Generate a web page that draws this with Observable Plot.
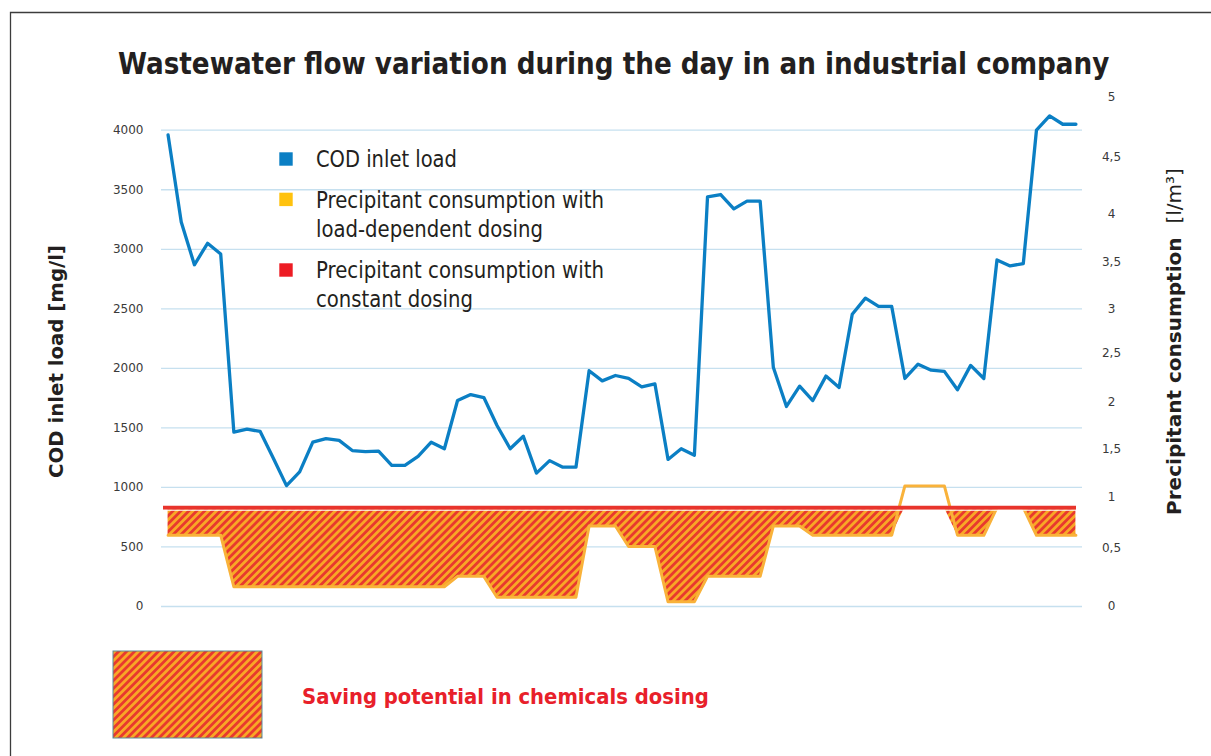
<!DOCTYPE html>
<html>
<head>
<meta charset="utf-8">
<script src="https://cdn.jsdelivr.net/npm/d3@7"></script>
<script src="https://cdn.jsdelivr.net/npm/@observablehq/plot@0.6"></script>
<style>
html,body{margin:0;padding:0;background:#fff;}
#page{position:relative;width:1211px;height:756px;overflow:hidden;background:#fff;}
#chart{position:absolute;left:0;top:80px;}
#overlay{position:absolute;left:0;top:0;pointer-events:none;}
</style>
</head>
<body>
<div id="page">
  <div id="chart"></div>
  <svg id="overlay" width="1211" height="756" xmlns="http://www.w3.org/2000/svg"></svg>
</div>
<script>
// ---------- texts ----------
const title = "Wastewater flow variation during the day in an industrial company";
const yLabelLeft = "COD inlet load [mg/l]";
const yLabelRight = ["Precipitant consumption", "[l/m³]"];
const savingLabel = "Saving potential in chemicals dosing";
const seriesNames = [
  ["COD inlet load"],
  ["Precipitant consumption with", "load-dependent dosing"],
  ["Precipitant consumption with", "constant dosing"]
];
const seriesColors = ["#0b7fc4", "#ffc20e", "#ed1c24"];

// ---------- data ----------
// COD inlet load [mg/l], one value per sample through the day
const codLoad = [
  3960, 3230, 2870, 3050, 2960, 1465, 1490, 1470, 1245, 1015,
  1130, 1380, 1410, 1395, 1310, 1300, 1305, 1185, 1185, 1260,
  1380, 1325, 1730, 1780, 1755, 1520, 1325, 1430, 1120, 1225,
  1170, 1170, 1980, 1895, 1940, 1915, 1845, 1870, 1235, 1325,
  1270, 3440, 3460, 3340, 3405, 3405, 2010, 1680, 1850, 1730,
  1935, 1840, 2455, 2590, 2520, 2520, 1915, 2035, 1985, 1975,
  1820, 2025, 1915, 2910, 2860, 2880, 4000, 4120, 4050, 4050
];
// Precipitant consumption with load-dependent dosing [l/m³]
const dosingLoadDependent = [
  0.63, 0.63, 0.63, 0.63, 0.63, 0.17, 0.17, 0.17, 0.17, 0.17,
  0.17, 0.17, 0.17, 0.17, 0.17, 0.17, 0.17, 0.17, 0.17, 0.17,
  0.17, 0.17, 0.26, 0.26, 0.26, 0.08, 0.08, 0.08, 0.08, 0.08,
  0.08, 0.08, 0.72, 0.72, 0.72, 0.52, 0.52, 0.52, 0.04, 0.04,
  0.04, 0.26, 0.26, 0.26, 0.26, 0.26, 0.72, 0.72, 0.72, 0.63,
  0.63, 0.63, 0.63, 0.63, 0.63, 0.63, 1.12, 1.12, 1.12, 1.12,
  0.63, 0.63, 0.63, 0.90, 0.90, 0.90, 0.63, 0.63, 0.63, 0.63
];
// Precipitant consumption with constant dosing [l/m³]
const dosingConstant = 0.9;

// left axis ticks [mg/l]
const leftTicks = [0, 500, 1000, 1500, 2000, 2500, 3000, 3500, 4000];
// right axis ticks [l/m³], their labels, and where each label sits on the left axis
const rightTickValues = [0, 0.5, 1, 1.5, 2, 2.5, 3, 3.5, 4, 4.5, 5];
const rightTickLabels = ["0", "0,5", "1", "1,5", "2", "2,5", "3", "3,5", "4", "4,5", "5"];
const rightTickAt = [0, 487, 916, 1319, 1714, 2126, 2496, 2891, 3294, 3773, 4277];

// ---------- chart ----------
const toLeft = d3.scaleLinear().domain(rightTickValues).range(rightTickAt);
const rows = codLoad.map((cod, i) => ({i, cod, dose: toLeft(dosingLoadDependent[i])}));
const constLeft = toLeft(dosingConstant);

const hatch = (id) => `<pattern id="${id}" patternUnits="userSpaceOnUse" width="5.6" height="5.6" patternTransform="rotate(45)"><rect width="5.6" height="5.6" fill="#f8a726"/><rect width="2.8" height="5.6" fill="#e8392e"/></pattern>`;

const plot = Plot.plot({
  width: 1211,
  height: 560,
  marginLeft: 161,
  marginRight: 129,
  marginTop: 14,
  marginBottom: 34,
  style: {fontFamily: "DejaVu Sans", fontSize: "12px", color: "#3a3a3a", background: "transparent"},
  x: {domain: [-0.5, 69.5], axis: null},
  y: {domain: [0, 4300], label: null},
  marks: [
    Plot.gridY(leftTicks, {stroke: "#c6e0ef", strokeOpacity: 1, strokeWidth: 1.3}),
    Plot.axisY(leftTicks, {anchor: "left", tickSize: 0, tickPadding: 18, label: null, tickFormat: d => String(d)}),
    Plot.axisY(rightTickAt, {anchor: "right", tickSize: 0, tickPadding: 29, textAnchor: "middle", label: null,
      tickFormat: d => rightTickLabels[rightTickAt.indexOf(d)]}),
    Plot.areaY(rows, {x: "i", y1: () => constLeft, y2: d => Math.min(d.dose, constLeft), fill: "url(#hatch)"}),
    Plot.lineY(rows, {x: "i", y: "dose", stroke: "#f9b23a", strokeWidth: 3}),
    Plot.ruleY([constLeft], {stroke: "#e8342c", strokeWidth: 4, insetLeft: 2, insetRight: 6}),
    Plot.ruleY([constLeft], {stroke: "#ffffff", strokeWidth: 1, dy: 2.6, insetLeft: 2, insetRight: 6}),
    Plot.lineY(rows, {x: "i", y: "cod", stroke: "#0b7fc4", strokeWidth: 3.3})
  ]
});
d3.select(plot).insert("defs", ":first-child").html(hatch("hatch"));
document.getElementById("chart").appendChild(plot);

// ---------- title, legends, axis titles ----------
const ov = d3.select("#overlay");
ov.append("defs").html(hatch("hatch2"));
ov.append("path").attr("d", "M10.5,756V12.5H1211").attr("fill", "none")
  .attr("stroke", "#3c3c3c").attr("stroke-width", 1.3);

// text placed at (x, y) baseline and squeezed horizontally to width w
function fitText(parent, build, x, y, w, anchor) {
  const t = parent.append("text").attr("x", 0).attr("y", 0)
    .attr("font-family", "DejaVu Sans").attr("text-anchor", anchor || "start");
  build(t);
  const natural = t.node().getComputedTextLength() || w;
  t.attr("transform", `translate(${x},${y}) scale(${w / natural},1)`);
  return t;
}
function simple(s, size, weight, fill) {
  return t => t.attr("font-size", size).attr("font-weight", weight || "normal")
    .attr("fill", fill || "#231f20").text(s);
}

// title
fitText(ov, simple(title, 29.5, "bold"), 118, 73.5, 992);

// series legend
const legendSquareTop = [152.3, 192.7, 263.3];
const legendBaselines = [[166.7], [208.3, 236.7], [278.3, 306.7]];
const legendWidths = [[141], [288, 227], [288, 157]];
seriesNames.forEach((lines, k) => {
  ov.append("rect").attr("x", 279.3).attr("y", legendSquareTop[k])
    .attr("width", 13.4).attr("height", 13.4).attr("fill", seriesColors[k]);
  lines.forEach((s, j) => fitText(ov, simple(s, 22.5), 316, legendBaselines[k][j], legendWidths[k][j]));
});

// left axis title
const gl = ov.append("g").attr("transform", "translate(63,361.5) rotate(-90)");
fitText(gl, simple(yLabelLeft, 20, "bold"), 0, 0, 233, "middle");

// right axis title
const gr = ov.append("g").attr("transform", "translate(1181,341.5) rotate(-90)");
fitText(gr, t => {
  t.attr("font-size", 20).attr("fill", "#231f20");
  t.append("tspan").attr("font-weight", "bold").text(yLabelRight[0] + "\u00a0\u00a0");
  t.append("tspan").attr("font-weight", "normal").text(yLabelRight[1]);
}, 0, 0, 347, "middle");

// saving potential legend
ov.append("rect").attr("x", 113).attr("y", 651).attr("width", 149).attr("height", 87)
  .attr("fill", "url(#hatch2)").attr("stroke", "#5b8c99").attr("stroke-width", 1);
fitText(ov, simple(savingLabel, 20.5, "bold", "#e8202a"), 302, 704, 407);
</script>
</body>
</html>
